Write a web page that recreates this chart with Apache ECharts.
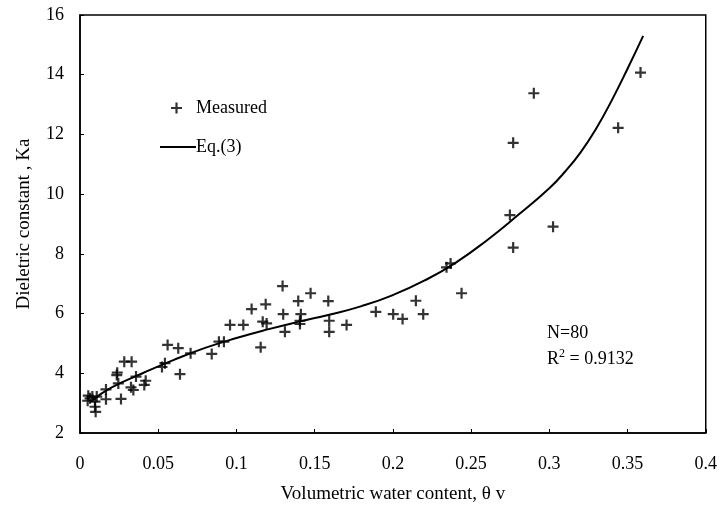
<!DOCTYPE html>
<html>
<head>
<meta charset="utf-8">
<script src="https://cdn.jsdelivr.net/npm/echarts@6/dist/echarts.min.js"></script>
<style>
  html, body { margin: 0; padding: 0; background: #fff; }
  #chart { width: 720px; height: 514px; }
</style>
</head>
<body>
<div id="chart"></div>
<script>
// measured points [theta v, Ka]
const measured = [
  [0.0053, 3.25], [0.0064, 3.16], [0.0049, 3.08], [0.0079, 3.22], [0.0107, 3.22],
  [0.0096, 3.05], [0.0096, 2.88], [0.0100, 2.71], [0.0166, 3.46], [0.0166, 3.13],
  [0.0238, 4.02], [0.0235, 3.94], [0.0245, 3.66], [0.0262, 3.14], [0.0283, 4.39],
  [0.0330, 4.39], [0.0326, 3.53], [0.0341, 3.44], [0.0358, 3.89], [0.0420, 3.75],
  [0.0411, 3.61], [0.0524, 4.21], [0.0543, 4.34], [0.0560, 4.95], [0.0639, 3.97],
  [0.0628, 4.84], [0.0707, 4.67], [0.0842, 4.65], [0.0888, 5.06], [0.0920, 5.06],
  [0.0959, 5.62], [0.1044, 5.62], [0.1155, 4.87], [0.1168, 5.73], [0.1097, 6.15],
  [0.1187, 6.31], [0.1193, 5.67], [0.1295, 6.92], [0.1395, 6.42], [0.1474, 6.68],
  [0.1587, 6.42], [0.1299, 5.98], [0.1412, 5.98], [0.1406, 5.76], [0.1406, 5.65],
  [0.1310, 5.39], [0.1593, 5.76], [0.1593, 5.39], [0.1704, 5.62], [0.1891, 6.06],
  [0.2002, 5.98], [0.2062, 5.82], [0.2147, 6.43], [0.2194, 5.98], [0.2343, 7.55],
  [0.2369, 7.68], [0.2439, 6.68], [0.2901, 13.38], [0.2769, 11.72], [0.3440, 12.22],
  [0.2748, 9.30], [0.3024, 8.91], [0.2769, 8.21], [0.3583, 14.07]
];

// Eq.(3) curve
const eqCurve = [
  [0.008, 3.1], [0.02, 3.52], [0.04, 4.0], [0.06, 4.45], [0.08, 4.85], [0.1, 5.18],
  [0.12, 5.47], [0.14, 5.73], [0.16, 5.97], [0.18, 6.25], [0.2, 6.62], [0.22, 7.1],
  [0.24, 7.7], [0.26, 8.45], [0.28, 9.3], [0.3, 10.2], [0.31, 10.75], [0.32, 11.4],
  [0.33, 12.2], [0.34, 13.15], [0.35, 14.2], [0.36, 15.3]
];

const xTicks = [0, 0.05, 0.1, 0.15, 0.2, 0.25, 0.3, 0.35, 0.4];
const yTicks = [2, 4, 6, 8, 10, 12, 14, 16];

const plusPath = 'path://M4,0H6V4H10V6H6V10H4V6H0V4H4Z';
const font = 'Liberation Serif';

let chart = echarts.init(document.getElementById('chart'));
let option = {
  animation: false,
  textStyle: { fontFamily: font, color: '#000' },
  grid: {
    left: 80, right: 14, top: 15, bottom: 81,
    show: true,
    borderColor: '#000',
    borderWidth: 1.5
  },
  legend: [
    {
      data: [{ name: 'Measured', icon: plusPath }],
      left: 166, top: 94,
      itemWidth: 11, itemHeight: 11,
      itemGap: 0,
      textStyle: { fontFamily: font, fontSize: 18, color: '#000', padding: [0, 0, 0, 9] }
    },
    {
      data: [{ name: 'Eq.(3)', icon: 'rect' }],
      left: 155, top: 133,
      itemWidth: 36, itemHeight: 2,
      textStyle: { fontFamily: font, fontSize: 18, color: '#000', padding: [0, 0, 0, -5] }
    }
  ],
  xAxis: {
    type: 'value',
    min: xTicks[0], max: xTicks[xTicks.length - 1], interval: 0.05,
    name: 'Volumetric water content, θ v',
    nameLocation: 'middle',
    nameGap: 52,
    nameTextStyle: { fontFamily: font, fontSize: 19, color: '#000' },
    axisLine: { show: true, lineStyle: { color: '#000', width: 1.5 } },
    axisTick: { show: true, inside: true, length: 4, lineStyle: { color: '#000' } },
    axisLabel: { fontFamily: font, fontSize: 18, color: '#000', margin: 22 },
    splitLine: { show: false }
  },
  yAxis: {
    type: 'value',
    min: yTicks[0], max: yTicks[yTicks.length - 1], interval: 2,
    name: 'Dieletric constant , Ka',
    nameLocation: 'middle',
    nameGap: 46,
    nameTextStyle: { fontFamily: font, fontSize: 19, color: '#000' },
    axisLine: { show: true, lineStyle: { color: '#000', width: 1.5 } },
    axisTick: { show: true, inside: true, length: 4, lineStyle: { color: '#000' } },
    axisLabel: { fontFamily: font, fontSize: 18, color: '#000', margin: 16 },
    splitLine: { show: false }
  },
  graphic: [
    {
      type: 'text',
      left: 547, top: 324,
      style: { text: 'N=80', font: '18px "Liberation Serif"', fill: '#000' }
    },
    {
      type: 'text',
      left: 547, top: 348,
      style: {
        text: '{a|R}{b|2}{a| = 0.9132}',
        fill: '#000',
        rich: {
          a: { fontFamily: font, fontSize: 18, verticalAlign: 'bottom' },
          b: { fontFamily: font, fontSize: 12, verticalAlign: 'top', padding: [0, 0, 8, 0] }
        }
      }
    }
  ],
  series: [
    {
      name: 'Measured',
      type: 'scatter',
      symbol: plusPath,
      symbolSize: 11,
      itemStyle: { color: '#000' },
      data: measured
    },
    {
      name: 'Eq.(3)',
      type: 'line',
      smooth: true,
      symbol: 'none',
      lineStyle: { color: '#000', width: 2 },
      itemStyle: { color: '#000' },
      data: eqCurve
    }
  ]
};
chart.setOption(option);
</script>
</body>
</html>
